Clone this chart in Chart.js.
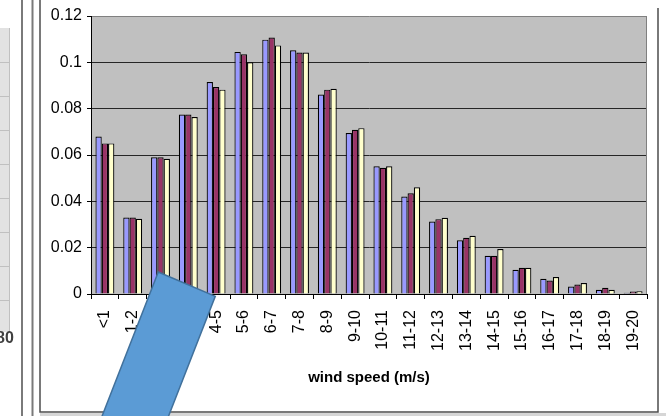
<!DOCTYPE html>
<html>
<head>
<meta charset="utf-8">
<script src="https://cdn.jsdelivr.net/npm/chart.js@4/dist/chart.umd.min.js"></script>
<style>
  html, body { margin: 0; padding: 0; background: #ffffff; }
  #wrap { width: 666px; height: 416px; }
</style>
</head>
<body>
<div id="wrap"><canvas id="c" width="666" height="416"></canvas></div>
<script>
// Wind speed bins (m/s)
const categories = ['<1', '1-2', '2-3', '3-4', '4-5', '5-6', '6-7', '7-8', '8-9', '9-10',
  '10-11', '11-12', '12-13', '13-14', '14-15', '15-16', '16-17', '17-18', '18-19', '19-20'];

// Relative frequency of each bin, three series
const series1 = [0.068, 0.033, 0.059, 0.0775, 0.0915, 0.1045, 0.1098, 0.1052, 0.0861, 0.0695,
  0.0551, 0.0421, 0.0313, 0.0232, 0.0165, 0.0105, 0.0066, 0.0032, 0.0018, 0.0005];
const series2 = [0.065, 0.033, 0.059, 0.0775, 0.0893, 0.1035, 0.1107, 0.1042, 0.0882, 0.0709,
  0.0545, 0.0435, 0.0323, 0.0243, 0.0165, 0.0113, 0.0058, 0.0041, 0.0027, 0.0011];
const series3 = [0.065, 0.0325, 0.0584, 0.0764, 0.0882, 0.100, 0.1073, 0.1042, 0.0886, 0.0716,
  0.0551, 0.0461, 0.0329, 0.0251, 0.0194, 0.0113, 0.0073, 0.0047, 0.0018, 0.0012];

// Value axis ticks
const yTickValues = [0, 0.02, 0.04, 0.06, 0.08, 0.1, 0.12];
const xAxisTitle = 'wind speed (m/s)';

const FONT = '"Liberation Sans", Arial, Helvetica, sans-serif';

// Page furniture around the chart: neighbouring panel edge, frame lines, plot background
const framePlugin = {
  id: 'frame',
  beforeDraw(chart) {
    const ctx = chart.ctx;
    const a = chart.chartArea;
    ctx.save();
    ctx.fillStyle = '#ffffff';
    ctx.fillRect(0, 0, chart.width, chart.height);

    // edge of the neighbouring panel on the left
    ctx.fillStyle = '#e2e2e2';
    ctx.fillRect(0, 28, 9, 304);
    ctx.strokeStyle = '#c0c0c0';
    ctx.lineWidth = 1;
    ctx.beginPath();
    ctx.moveTo(9.5, 28); ctx.lineTo(9.5, 332);
    for (let y = 62; y < 332; y += 34) { ctx.moveTo(0, y + 0.5); ctx.lineTo(9, y + 0.5); }
    ctx.stroke();
    ctx.fillStyle = '#404040';
    ctx.font = 'bold 16px ' + FONT;
    ctx.textBaseline = 'middle';
    ctx.fillText('80', -4, 339);

    // double separator lines
    ctx.strokeStyle = '#7a7a7a';
    ctx.lineWidth = 2;
    ctx.beginPath();
    ctx.moveTo(22, 0); ctx.lineTo(22, chart.height);
    ctx.moveTo(32.5, 0); ctx.lineTo(32.5, chart.height);
    ctx.stroke();

    // chart frame
    ctx.strokeStyle = '#4d4d4d';
    ctx.lineWidth = 1.5;
    ctx.beginPath();
    ctx.moveTo(40, 0); ctx.lineTo(40, 412); ctx.lineTo(658, 412); ctx.lineTo(658, 8);
    ctx.stroke();
    ctx.fillStyle = '#d6d6d6';
    ctx.fillRect(40, 413, 626, 3);

    // plot area fill
    ctx.fillStyle = '#c0c0c0';
    ctx.fillRect(a.left, a.top, a.right - a.left, a.bottom - a.top);
    ctx.restore();
  },
  beforeDatasetsDraw(chart) {
    const ctx = chart.ctx;
    const a = chart.chartArea;
    ctx.save();
    ctx.strokeStyle = '#808080';
    ctx.lineWidth = 1;
    ctx.beginPath();
    ctx.moveTo(a.right - 0.5, a.top);
    ctx.lineTo(a.right - 0.5, a.bottom);
    ctx.stroke();
    ctx.restore();
  }
};

// Blue callout bar laid over the lower left of the chart, anchored to the scales
const calloutPlugin = {
  id: 'callout',
  afterDraw(chart) {
    const xs = chart.scales.x, ys = chart.scales.y;
    const ctx = chart.ctx;
    const p1 = { x: xs.getPixelForValue(1.92), y: ys.getPixelForValue(0.0095) };
    const p2 = { x: xs.getPixelForValue(3.97), y: ys.getPixelForValue(-0.001) };
    const len = 220, dx = -0.39, dy = 1;
    const n = Math.hypot(dx, dy);
    const v = { x: dx / n * len, y: dy / n * len };
    ctx.save();
    ctx.beginPath();
    ctx.moveTo(p1.x, p1.y);
    ctx.lineTo(p2.x, p2.y);
    ctx.lineTo(p2.x + v.x, p2.y + v.y);
    ctx.lineTo(p1.x + v.x, p1.y + v.y);
    ctx.closePath();
    ctx.fillStyle = '#5b9bd5';
    ctx.fill();
    ctx.strokeStyle = '#41719c';
    ctx.lineWidth = 1.5;
    ctx.stroke();
    ctx.restore();
  }
};

const chart = new Chart(document.getElementById('c'), {
  type: 'bar',
  data: {
    labels: categories,
    datasets: [
      { label: 'Series1', data: series1, backgroundColor: '#9999ff' },
      { label: 'Series2', data: series2, backgroundColor: '#993366' },
      { label: 'Series3', data: series3, backgroundColor: '#ffffcc' }
    ]
  },
  options: {
    responsive: false,
    animation: false,
    devicePixelRatio: 1,
    layout: { padding: { left: 0, top: 16, right: 19, bottom: 0 } },
    datasets: {
      bar: {
        borderColor: '#000000',
        borderWidth: 1.2,
        categoryPercentage: 0.68,
        barPercentage: 1.0
      }
    },
    plugins: {
      legend: { display: false },
      tooltip: { enabled: false },
      title: { display: false }
    },
    scales: {
      x: {
        afterFit(scale) { scale.height = 122; },
        grid: {
          offset: true,
          drawOnChartArea: false,
          drawTicks: true,
          tickLength: 5,
          color: '#000000',
          lineWidth: 1
        },
        border: { display: true, color: '#000000', width: 1 },
        ticks: {
          autoSkip: false,
          minRotation: 90,
          maxRotation: 90,
          padding: 11,
          color: '#000000',
          font: { family: FONT, size: 16 }
        },
        title: {
          display: true,
          text: xAxisTitle,
          color: '#000000',
          font: { family: FONT, size: 15, weight: 'bold' },
          padding: { top: 0, bottom: 29 }
        }
      },
      y: {
        min: 0,
        max: 0.12,
        afterFit(scale) { scale.width = 91; },
        afterBuildTicks(scale) { scale.ticks = yTickValues.map(v => ({ value: v })); },
        grid: {
          color: ctx => (ctx.tick && ctx.tick.value === 0.12 ? '#808080' : '#262626'),
          lineWidth: 1,
          drawTicks: true,
          tickLength: 4,
          tickColor: '#000000'
        },
        border: { display: true, color: '#000000', width: 1 },
        ticks: {
          padding: 5,
          color: '#000000',
          font: { family: FONT, size: 16 },
          callback: v => String(Math.round(v * 100) / 100)
        }
      }
    }
  },
  plugins: [framePlugin, calloutPlugin]
});
</script>
</body>
</html>
